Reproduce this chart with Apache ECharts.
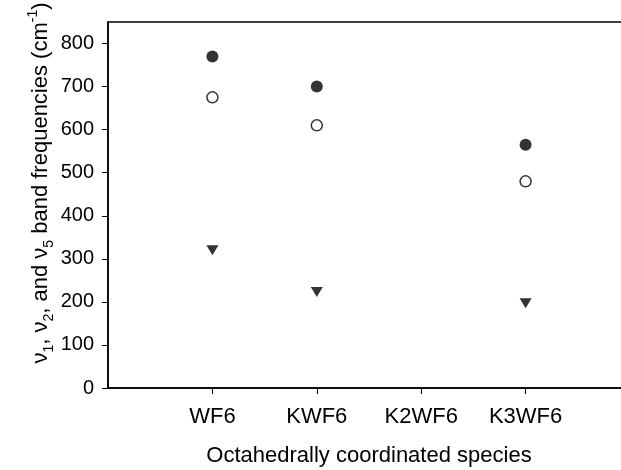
<!DOCTYPE html>
<html>
<head>
<meta charset="utf-8">
<script src="https://cdn.jsdelivr.net/npm/echarts@6/dist/echarts.min.js"></script>
<style>
  html, body { margin: 0; padding: 0; background: #fff; }
  #chart { width: 621px; height: 470px; }
</style>
</head>
<body>
<div id="chart"></div>
<script>
// species along the x axis (positions 1..4)
var species = ['WF6', 'KWF6', 'K2WF6', 'K3WF6']
var speciesPos = [1, 2, 3, 4]
// band frequencies, cm-1 (K2WF6 not measured)
var nu1 = [770, 700, null, 565]
var nu2 = [675, 610, null, 480]
var nu5 = [320, 223, null, 197]
var yTicks = [0, 100, 200, 300, 400, 500, 600, 700, 800]

var font = '"Liberation Sans", Arial, sans-serif'

function pairs(vals) {
  var out = []
  for (var i = 0; i < vals.length; i++) {
    if (vals[i] != null) out.push([speciesPos[i], vals[i]])
  }
  return out
}

var chart = echarts.init(document.getElementById('chart'))

chart.setOption({
  animation: false,
  grid: {
    left: 108,
    top: 22,
    width: 522,
    height: 366,
    outerBoundsMode: 'none',
    containLabel: false,
    show: true,
    borderColor: '#000',
    borderWidth: 1.5
  },
  xAxis: {
    type: 'value',
    min: 0,
    max: 5,
    interval: 1,
    splitLine: { show: false },
    axisLine: { lineStyle: { color: '#000', width: 1.5 } },
    axisTick: { customValues: speciesPos, length: 6, lineStyle: { color: '#000' } },
    axisLabel: {
      customValues: speciesPos,
      formatter: function (v) { return species[v - 1] },
      color: '#000',
      fontFamily: font,
      fontSize: 22,
      margin: 18
    },
    name: 'Octahedrally coordinated species',
    nameLocation: 'middle',
    nameGap: 57,
    nameTextStyle: { color: '#000', fontFamily: font, fontSize: 22 }
  },
  yAxis: {
    type: 'value',
    min: 0,
    max: 850,
    interval: 100,
    splitLine: { show: false },
    axisLine: { lineStyle: { color: '#000', width: 1.5 } },
    axisTick: { customValues: yTicks, length: 6, lineStyle: { color: '#000' } },
    axisLabel: {
      customValues: yTicks,
      color: '#000',
      fontFamily: font,
      fontSize: 20,
      margin: 14
    }
  },
  graphic: [{
    type: 'text',
    x: 41,
    y: 183,
    rotation: Math.PI / 2,
    style: {
      text: '{m|ν}{s|1}{m|, ν}{s|2}{m|, and ν}{s|5}{m| band frequencies (cm}{p|-1}{m|)}',
      align: 'center',
      verticalAlign: 'middle',
      fill: '#000',
      rich: {
        m: { fontFamily: font, fontSize: 22, lineHeight: 30, verticalAlign: 'middle' },
        s: { fontFamily: font, fontSize: 14, lineHeight: 30, verticalAlign: 'bottom' },
        p: { fontFamily: font, fontSize: 14, lineHeight: 30, verticalAlign: 'top' }
      }
    }
  }],
  series: [{
    name: 'v1',
    type: 'scatter',
    data: pairs(nu1),
    symbol: 'circle',
    symbolSize: 12,
    itemStyle: { color: '#000' }
  }, {
    name: 'v2',
    type: 'scatter',
    data: pairs(nu2),
    symbol: 'circle',
    symbolSize: 11,
    itemStyle: { color: '#fff', borderColor: '#000', borderWidth: 1.5 }
  }, {
    name: 'v5',
    type: 'scatter',
    data: pairs(nu5),
    symbol: 'triangle',
    symbolSize: [12, 10],
    symbolRotate: 180,
    itemStyle: { color: '#000' }
  }]
})
</script>
</body>
</html>
